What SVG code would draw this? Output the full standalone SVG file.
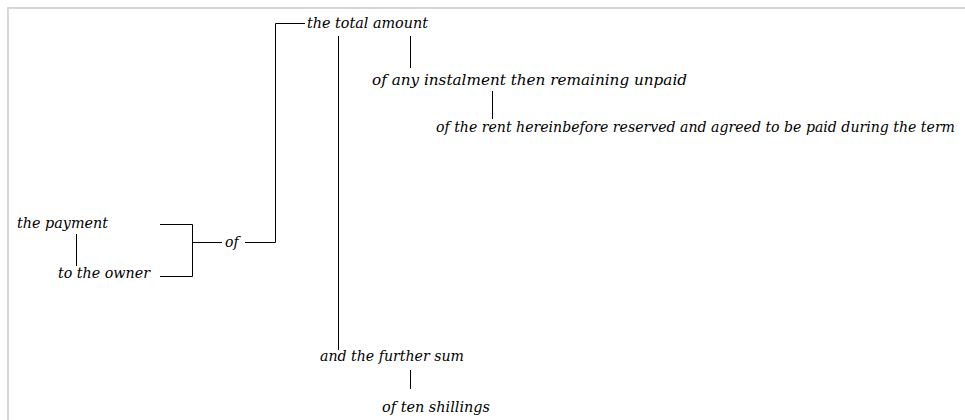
<svg xmlns="http://www.w3.org/2000/svg" width="965" height="420" viewBox="0 0 965 420">
<style>
text{font-family:"DejaVu Serif","Liberation Serif",serif;font-style:italic;font-size:14px;fill:#000}
.c line,.c polyline{stroke:#000;stroke-width:1;fill:none}
.frame{stroke:#d8d8d8;stroke-width:2;fill:none}
</style>
<rect width="965" height="420" fill="#fff"/>
<polyline class="frame" points="8,420 8,8 965,8"/>
<g class="c" id="connectors">
<polyline points="160,224.5 192.5,224.5 192.5,276.5 160,276.5"/>
<line x1="192.5" y1="242.5" x2="222" y2="242.5"/>
<polyline points="245,242.5 275.5,242.5 275.5,23.5 305,23.5"/>
<line x1="338.5" y1="36" x2="338.5" y2="350"/>
<line x1="410.5" y1="36" x2="410.5" y2="68"/>
<line x1="492.5" y1="91" x2="492.5" y2="119"/>
<line x1="76.5" y1="234" x2="76.5" y2="266"/>
<line x1="410.5" y1="370" x2="410.5" y2="389"/>
</g>
<g id="n_payment"><text x="17" y="228" textLength="91" lengthAdjust="spacingAndGlyphs">the payment</text></g>
<g id="n_owner"><text x="58" y="278" textLength="92" lengthAdjust="spacingAndGlyphs">to the owner</text></g>
<g id="n_of"><text x="225" y="247">of</text></g>
<g id="n_total"><text x="307" y="28" textLength="121" lengthAdjust="spacingAndGlyphs">the total amount</text></g>
<g id="n_instalment"><text x="372" y="85" textLength="315" lengthAdjust="spacingAndGlyphs">of any instalment then remaining unpaid</text></g>
<g id="n_rent"><text x="436" y="132" textLength="519" lengthAdjust="spacingAndGlyphs">of the rent hereinbefore reserved and agreed to be paid during the term</text></g>
<g id="n_further"><text x="320" y="361" textLength="144" lengthAdjust="spacingAndGlyphs">and the further sum</text></g>
<g id="n_shillings"><text x="382" y="412" textLength="108" lengthAdjust="spacingAndGlyphs">of ten shillings</text></g>
</svg>
